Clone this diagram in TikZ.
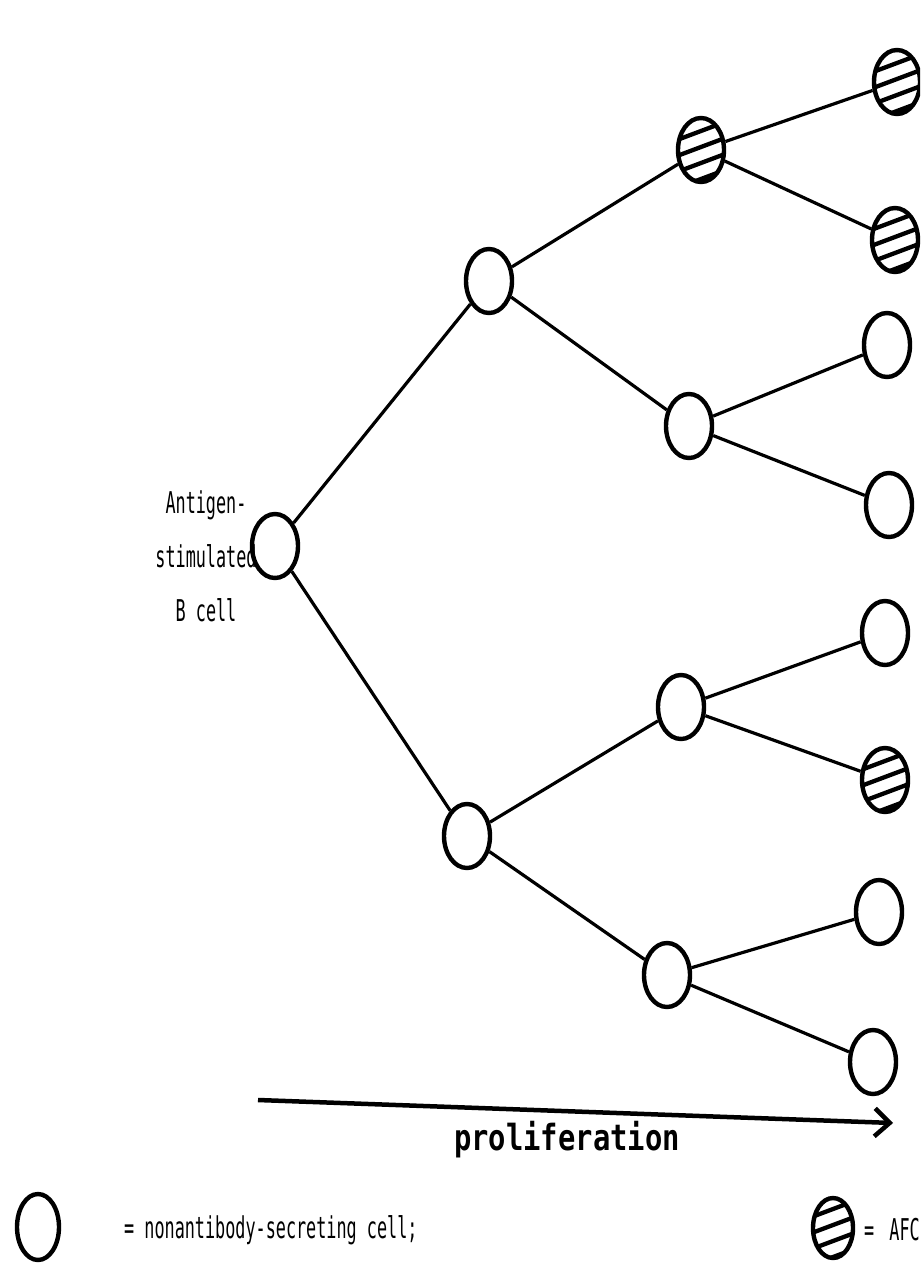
\documentclass[tikz,border=0pt]{standalone}
\usepackage{fontspec}
\newfontfamily\typer[FakeStretch=0.56]{DejaVu Sans Mono}
\newfontfamily\typerb[FakeStretch=0.80]{DejaVu Sans Mono Bold}
\usetikzlibrary{shapes.geometric,arrows.meta}
\tikzset{
  cell/.style={ellipse, draw, line width=4.4pt, inner sep=0pt,
    minimum width=46pt, minimum height=64pt},
  afc/.style={cell, path picture={
    \foreach \k in {-3,...,3}
      \draw[line width=4.3pt, shift={(path picture bounding box.center)}]
        (-40pt,-12pt+\k*16pt) -- (40pt,18pt+\k*16pt);}},
  link/.style={line width=3.2pt},
  lbl/.style={font=\typer\fontsize{30}{54}\selectfont, inner sep=0pt},
}
\begin{document}
\begin{tikzpicture}[x=1pt,y=-1pt]
\useasboundingbox (0,0) rectangle (920,1281);
\clip (0,0) rectangle (920,1281);
% generation 0
\node[cell] (R) at (275,546) {};
% generation 1
\node[cell] (A) at (489,281) {};
\node[cell] (B) at (467,836) {};
% generation 2
\node[afc]  (A1) at (701,150) {};
\node[cell] (A2) at (689,426) {};
\node[cell] (B1) at (681,707) {};
\node[cell] (B2) at (667,975) {};
% generation 3
\node[afc]  (A1a) at (897,82) {};
\node[afc]  (A1b) at (895,240) {};
\node[cell] (A2a) at (887,345) {};
\node[cell] (A2b) at (889,505) {};
\node[cell] (B1a) at (885,633) {};
\node[afc]  (B1b) at (885,780) {};
\node[cell] (B2a) at (879,912) {};
\node[cell] (B2b) at (873,1062) {};
% connectors
\draw[link] (R) -- (A);
\draw[link] (R) -- (B);
\draw[link] (A) -- (A1);
\draw[link] (A) -- (A2);
\draw[link] (B) -- (B1);
\draw[link] (B) -- (B2);
\draw[link] (A1) -- (A1a);
\draw[link] (A1) -- (A1b);
\draw[link] (A2) -- (A2a);
\draw[link] (A2) -- (A2b);
\draw[link] (B1) -- (B1a);
\draw[link] (B1) -- (B1b);
\draw[link] (B2) -- (B2a);
\draw[link] (B2) -- (B2b);
% label of root
\node[lbl, align=center] (rl) at (206,556) {Antigen-\\stimulated\\B cell};
% proliferation arrow
\coordinate (p0) at (258,1100);
\coordinate (p1) at (893,1123);
\draw[line width=4.5pt, -{Straight Barb[length=15pt,width=28pt,line width=4.5pt]}] (p0) -- (p1);
\node[font=\typerb\fontsize{36}{40}\selectfont, inner sep=0pt] (pl) at (567,1140) {proliferation};
% legend
\node[cell, minimum width=42pt, minimum height=66pt] (L1) at (38,1227) {};
\node[lbl, anchor=west] (L1t) at (124,1230) {= nonantibody-secreting cell;};
\node[afc, minimum width=40pt, minimum height=60pt] (L2) at (833,1228) {};
\node[lbl, anchor=west] (L2t) at (864,1230) {= \,AFC};
\end{tikzpicture}
\end{document}
